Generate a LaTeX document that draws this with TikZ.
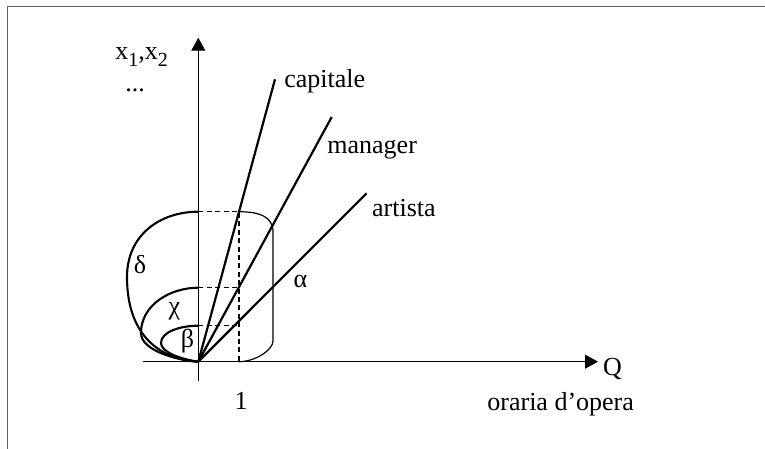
\documentclass[tikz,border=0pt]{standalone}
\usepackage{fontspec}
\setmainfont{Liberation Serif}
\usepackage{tikz}
\usetikzlibrary{arrows.meta, positioning}

\newcommand{\lowsub}[1]{\raisebox{-3.5pt}{\fontsize{10}{12}\selectfont #1}}

\begin{document}
\begin{tikzpicture}[x=0.5pt, y=-0.5pt,
                    font=\fontsize{13}{15}\selectfont,
                    frame/.style={
                        draw=black!62,
                        line width=0.7pt
                    },
                    axis/.style={
                        -{Triangle[length=6.5pt,width=7pt]},
                        line width=0.5pt
                    },
                    ray/.style={
                        line width=1.1pt
                    },
                    curve/.style={
                        line width=1.05pt
                    },
                    guide/.style={
                        line width=0.75pt,
                        dash pattern=on 2.5pt off 1.7pt
                    },
                    lbl/.style={
                        inner sep=0pt
                    }
                ]
                \useasboundingbox (0,0) rectangle (765,449);

                % Cornice
                \coordinate (fbl) at (7.3,449);
                \coordinate (ftl) at (7.3,6.7);
                \coordinate (ftr) at (765,6.7);
                \draw[frame] (fbl) -- (ftl) -- (ftr);

                % Assi
                \coordinate (O) at (198.3,361.7);
                \coordinate (ybot) at (198.3,380.7);
                \coordinate (ytop) at (198.3,37.7);
                \coordinate (xleft) at (143,361.7);
                \coordinate (xright) at (598,361.7);
                \draw[axis] (ybot) -- (ytop);
                \draw[axis] (xleft) -- (xright);

                % Rette
                \coordinate (capend) at (275,79.3);
                \coordinate (manend) at (331.7,117);
                \coordinate (artend) at (366.5,193.3);
                \draw[ray] (O) -- (capend);
                \draw[ray] (O) -- (manend);
                \draw[ray] (O) -- (artend);

                % Curve
                \coordinate (dtop) at (198.3,211.7);
                \coordinate (ctop) at (198.3,287.7);
                \coordinate (btop) at (198.3,325.7);
                \coordinate (done) at (239,211.7);
                \coordinate (doneb) at (239,361.7);
                \draw[curve] (O) .. controls (165,360) and (127,340) .. (127,277)
                    .. controls (127,235) and (160,211.7) .. (dtop);
                \draw[line width=0.6pt] (done) .. controls (260,211.7) and (273,217) .. (273,232)
                    -- (273,341) .. controls (273,350) and (255,361.7) .. (doneb);
                \draw[curve] (O) .. controls (175,360) and (141,350) .. (141,333)
                    .. controls (141,305) and (170,287.7) .. (ctop);
                \draw[curve] (O) .. controls (180,359) and (161,352) .. (161,343)
                    .. controls (161,332) and (180,325.7) .. (btop);

                % Tratteggi
                \coordinate (cone) at (239,287.7);
                \coordinate (bone) at (239,325.7);
                \draw[guide] (dtop) -- (done) -- (doneb);
                \draw[guide] (ctop) -- (cone);
                \draw[guide] (btop) -- (bone);

                % Etichette
                \node[lbl, anchor=base west] (xlab) at (115,60) {x\lowsub{1},x\lowsub{2}};
                \node[lbl, anchor=base] (dots) at (135,91.7) {...};
                \node[lbl, anchor=base west] (caplab) at (284,87.3) {capitale};
                \node[lbl, anchor=base west] (manlab) at (327,153.3) {manager};
                \node[lbl, anchor=base west] (artlab) at (371.7,216.7) {artista};
                \node[lbl] (alpha) at (300.5,281) {α};
                \node[lbl] (delta) at (140,265) {δ};
                \node[lbl] (chi) at (174.5,311) {χ};
                \node[lbl] (beta) at (187.5,341) {β};
                \node[lbl] (qlab) at (612.5,369) {Q};
                \node[lbl] (one) at (241,400.5) {1};
                \node[lbl, anchor=base west] (qdesc) at (487,410) {oraria d’opera};

            \end{tikzpicture}
\end{document}
